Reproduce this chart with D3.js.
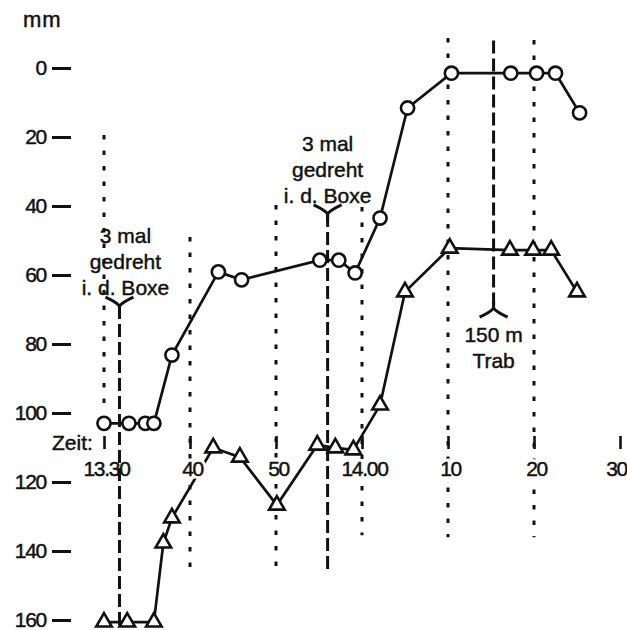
<!DOCTYPE html>
<html>
<head>
<meta charset="utf-8">
<script src="https://cdn.jsdelivr.net/npm/d3@7"></script>
<style>
  body { margin: 0; background: #fff; }
  svg text { font-family: "Liberation Sans", Arial, sans-serif; fill: #111; stroke: #111; stroke-width: 0.45px; }
</style>
</head>
<body>
<div id="chart"></div>
<script>
// minutes after 13.30 and depth in mm
const circleTimes = [0, 2.9, 4.8, 5.8, 7.9, 13.3, 16.0, 25.1, 27.3, 29.2, 32.1, 35.3, 40.4, 47.3, 50.3, 52.5, 55.3];
const circleValues = [103, 103, 103, 103, 83.2, 59.1, 61.4, 55.7, 55.7, 59.4, 43.5, 11.6, 1.5, 1.5, 1.5, 1.5, 13];

const triangleTimes = [0, 2.7, 5.8, 6.9, 7.9, 12.7, 15.8, 20.1, 24.8, 26.9, 29.0, 32.1, 35.0, 40.2, 47.2, 49.9, 52.0, 55.0];
const triangleValues = [160.6, 160.6, 160.6, 137.7, 130.4, 110.1, 112.8, 126.7, 109.3, 110.1, 110.7, 97.7, 64.9, 52.2, 52.8, 52.8, 52.8, 64.9];

const yTicks = [0, 20, 40, 60, 80, 100, 120, 140, 160];
const xTicks = [0, 10, 20, 30, 40, 50, 60];
const xTickLabels = ["13.30", "40", "50", "14.00", "10", "20", "30"];

// dotted time guides: time, top and bottom in mm
const guideTimes = [0, 10, 20, 30, 40, 50];
const guideFrom = [19.4, 49, 39.7, 40.3, -8.7, -8.1];
const guideTo = [100, 145, 145.5, 135.4, 136, 136];

// dashed event lines
const eventTimes = [1.8, 26, 45.3];
const eventFrom = [69, 42.3, -8];
const eventTo = [163, 145.5, 69.6];
const eventFork = ["up", "up", "down"];   // which end carries the fork
const eventText = [["3 mal", "gedreht", "i. d. Boxe"], ["3 mal", "gedreht", "i. d. Boxe"], ["150 m", "Trab"]];

const width = 627, height = 630;

const svg = d3.select("#chart")
    .append("svg")
    .attr("width", width)
    .attr("height", height);

const x = d3.scaleLinear().domain([0, 60]).range([104, 620]);
const y = d3.scaleLinear().domain([0, 160]).range([68, 620]);

// dotted guides
svg.append("g")
  .selectAll("line")
  .data(guideTimes)
  .join("line")
    .attr("x1", d => x(d))
    .attr("x2", d => x(d))
    .attr("y1", (d, i) => y(guideFrom[i]))
    .attr("y2", (d, i) => y(guideTo[i]))
    .attr("stroke", "#111")
    .attr("stroke-width", 3)
    .attr("stroke-dasharray", "4.5 11");

// series lines
const circles = circleTimes.map((t, i) => ({t: t, v: circleValues[i]}));
const triangles = triangleTimes.map((t, i) => ({t: t, v: triangleValues[i]}));
const line = d3.line().x(d => x(d.t)).y(d => y(d.v));

[circles, triangles].forEach(s => {
  svg.append("path")
    .datum(s)
    .attr("d", line)
    .attr("fill", "none")
    .attr("stroke", "#111")
    .attr("stroke-width", 2.7);
});

// y axis
const yAxis = svg.append("g")
    .attr("transform", "translate(71,0)")
    .call(d3.axisLeft(y).tickValues(yTicks).tickSize(19).tickPadding(6));
yAxis.select(".domain").remove();
yAxis.selectAll("line").attr("stroke", "#111").attr("stroke-width", 3);
yAxis.selectAll("text")
    .style("font-size", "21px")
    .style("letter-spacing", "-1.3px")
    .attr("fill", "#111");

svg.append("text")
    .attr("x", 23)
    .attr("y", 27)
    .style("font-size", "22px")
    .style("letter-spacing", "1px")
    .text("mm");

// x axis (time)
const xAxis = svg.append("g")
    .attr("transform", "translate(0,436)")
    .call(d3.axisBottom(x).tickValues(xTicks)
      .tickFormat((d, i) => xTickLabels[i])
      .tickSize(13).tickPadding(12));
xAxis.select(".domain").remove();
xAxis.selectAll("line").attr("stroke", "#111").attr("stroke-width", 2.6);
xAxis.selectAll("text")
    .style("font-size", "21px")
    .style("letter-spacing", "-1.3px")
    .attr("dx", d => d === 60 ? -4 : 2)
    .attr("fill", "#111")
    .each(function() {
      // white halo copy behind the label
      const t = d3.select(this);
      t.clone(true).lower()
        .attr("fill", "#fff")
        .style("stroke", "#fff")
        .style("stroke-width", "6px");
    });

svg.append("text")
    .attr("x", 52)
    .attr("y", 450)
    .style("font-size", "21px")
    .text("Zeit:");

// markers
svg.append("g")
  .selectAll("circle")
  .data(circles)
  .join("circle")
    .attr("cx", d => x(d.t))
    .attr("cy", d => y(d.v))
    .attr("r", 6.6)
    .attr("fill", "#fff")
    .attr("stroke", "#111")
    .attr("stroke-width", 2.6);

svg.append("g")
  .selectAll("path")
  .data(triangles)
  .join("path")
    .attr("transform", d => `translate(${x(d.t)},${y(d.v)})`)
    .attr("d", d3.symbol(d3.symbolTriangle, 105))
    .attr("fill", "#fff")
    .attr("stroke", "#111")
    .attr("stroke-width", 2.6)
    .attr("stroke-linejoin", "miter");

// dashed event lines with forks
eventTimes.forEach((t, i) => {
  const ex = x(t);
  const up = eventFork[i] === "up";
  const fy = up ? y(eventFrom[i]) : y(eventTo[i]);

  svg.append("line")
    .attr("x1", ex).attr("x2", ex)
    .attr("y1", y(eventFrom[i]))
    .attr("y2", y(eventTo[i]))
    .attr("stroke", "#111")
    .attr("stroke-width", 3)
    .attr("stroke-dasharray", "13 5");

  const s = up ? -1 : 1;
  svg.append("path")
    .attr("d", `M${ex - 14},${fy + s * 9} Q${ex - 3},${fy + s * 4} ${ex},${fy} Q${ex + 3},${fy + s * 4} ${ex + 14},${fy + s * 9}`
      + ` M${ex},${fy} L${ex},${fy - s * 7}`)
    .attr("fill", "none")
    .attr("stroke", "#111")
    .attr("stroke-width", 3);

  const lines = eventText[i];
  const tx = ex + (i === 0 ? 6 : 0);
  const baseY = up ? fy - 63 : fy + 34;
  svg.append("g")
    .selectAll("text")
    .data(lines)
    .join("text")
      .attr("x", tx)
      .attr("y", (d, j) => baseY + j * 26)
      .attr("text-anchor", "middle")
      .style("font-size", "21px")
      .text(d => d);
});
</script>
</body>
</html>
